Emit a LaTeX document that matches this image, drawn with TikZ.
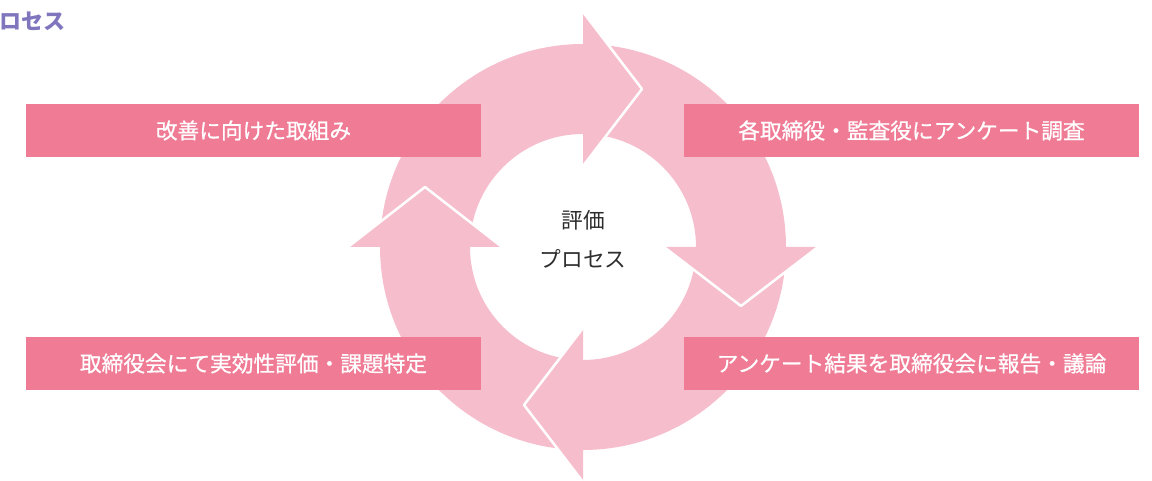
\documentclass[tikz,border=0pt]{standalone}
\usepackage{fontspec}
\newfontfamily\cjk{Noto Sans CJK JP}
\newfontfamily\cjkm[FakeBold=0.7]{Noto Sans CJK JP}
\usetikzlibrary{calc}
\definecolor{ringpink}{RGB}{246,190,204}
\definecolor{boxpink}{RGB}{240,123,149}
\definecolor{titlepurple}{RGB}{128,118,190}
\definecolor{darktext}{RGB}{45,45,45}
\begin{document}
\begin{tikzpicture}[x=1pt,y=1pt,
  seg/.style={fill=ringpink},
  head/.style={fill=ringpink},
  whiteedge/.style={draw=white,line width=2.5pt,line join=round,line cap=round},
  labelbox/.style={fill=boxpink,text=white,minimum width=455pt,minimum height=53pt,inner sep=0pt,font=\cjkm\fontsize{21.7}{24}\selectfont},
]
\useasboundingbox (0,0) rectangle (1152,481);
\coordinate (c) at (583,234);
% ring bodies
\foreach \s in {180,90,0,-90} {
  \fill[seg] ($(c)+(\s:203)$) arc[start angle=\s,end angle=\s-90,radius=203]
    -- ($(c)+(\s-90:113)$) arc[start angle=\s-90,end angle=\s,radius=113] -- cycle;
}
% arrow heads
\coordinate (h1a) at (583,469); \coordinate (h1t) at (642,392); \coordinate (h1b) at (583,315);
\coordinate (h2a) at (818,234); \coordinate (h2t) at (741,175); \coordinate (h2b) at (664,234);
\coordinate (h3a) at (583,-1);  \coordinate (h3t) at (524,76);  \coordinate (h3b) at (583,153);
\coordinate (h4a) at (348,234); \coordinate (h4t) at (425,294); \coordinate (h4b) at (502,234);
\foreach \i in {1,2,3,4} {
  \fill[head] (h\i a) -- (h\i t) -- (h\i b) -- cycle;
  \draw[whiteedge] (h\i a) -- (h\i t) -- (h\i b);
}
% labels
\node[labelbox] (t1) at (253.5,350.5) {改善に向けた取組み};
\node[labelbox] (t2) at (911.5,350.5) {各取締役・監査役にアンケート調査};
\node[labelbox] (t3) at (911.5,117.5) {アンケート結果を取締役会に報告・議論};
\node[labelbox] (t4) at (253.5,117.5) {取締役会にて実効性評価・課題特定};
\node[align=center,text=darktext,inner sep=0pt,font=\cjk\fontsize{21.7}{39}\selectfont] (ctr) at (583,242) {評価\\プロセス};
\node[anchor=west,inner sep=0pt,text=titlepurple,font=\cjk\bfseries\fontsize{22}{24}\selectfont] (title) at (-1,460) {ロセス};
\end{tikzpicture}
\end{document}
